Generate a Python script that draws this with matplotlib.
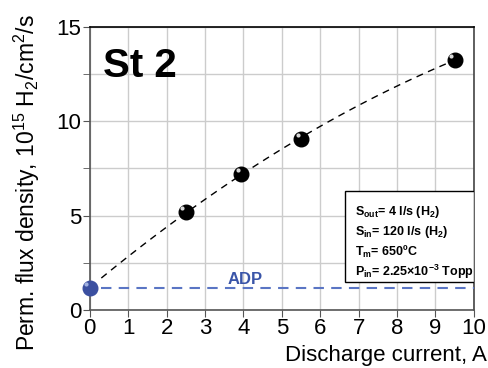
import numpy as np
import matplotlib
matplotlib.use('Agg')
import matplotlib.pyplot as plt
from matplotlib.patches import Rectangle

plt.rcParams['font.family'] = ['Liberation Sans', 'DejaVu Sans']
plt.rcParams['mathtext.fontset'] = 'custom'
plt.rcParams['mathtext.rm'] = 'Liberation Sans'
plt.rcParams['mathtext.it'] = 'Liberation Sans:italic'
plt.rcParams['mathtext.bf'] = 'Liberation Sans:bold'

# data
current = [2.5, 3.95, 5.5, 9.5]
flux = [5.2, 7.2, 9.05, 13.25]
adp_current = [0.0]
adp_flux = [1.15]
x_ticks = [0, 1, 2, 3, 4, 5, 6, 7, 8, 9, 10]
y_ticks = [0, 5, 10, 15]
info_lines = [r'$\mathbf{S_{out}}$= 4 l/s (H$\mathbf{_2}$)',
              r'$\mathbf{S_{in}}$= 120 l/s (H$\mathbf{_2}$)',
              r'$\mathbf{T_m}$= 650ºC',
              r'$\mathbf{P_{in}}$= 2.25×10$\mathbf{^{-3}}$ Topp']

fig = plt.figure(figsize=(4.88, 3.68), dpi=100)
ax = fig.add_axes([0.184, 0.158, 0.787, 0.769])

ax.set_xlim(0, 10)
ax.set_ylim(0, 15)
ax.set_xticks(x_ticks)
ax.set_yticks(y_ticks)
ax.set_yticks([2.5, 7.5, 12.5], minor=True)
ax.grid(True, which='both', color='#cccccc', lw=1)
ax.set_axisbelow(True)
ax.tick_params(labelsize=16, direction='out', length=5, color='#555555', pad=1)
ax.tick_params(which='minor', length=5, color='#555555')
for s in ['left', 'bottom']:
    ax.spines[s].set_color('#555555')
    ax.spines[s].set_linewidth(1.2)
ax.spines['top'].set_linewidth(1.2)
ax.spines['right'].set_color('#444444')
ax.spines['right'].set_linewidth(1.2)

# dashed fit curve through all points
fx = np.array(adp_current + current)
fy = np.array(adp_flux + flux)
coef = np.polyfit(fx, fy, 2)
xs = np.linspace(0.3, current[-1], 100)
ax.plot(xs, np.polyval(coef, xs), '--', color='black', lw=1, dashes=(5, 4), zorder=3)

# ADP level
ax.plot([0.3, 10], [adp_flux[0], adp_flux[0]], '--', color='#5a75c4', lw=1.5, dashes=(5, 3.5), zorder=3)
ax.text(3.59, adp_flux[0] + 0.2, 'ADP', color='#3a55a8', fontsize=12, fontweight='bold', zorder=4)

# spheres
ax.plot(current, flux, 'o', color='black', ms=10.5, zorder=5, clip_on=False)
ax.plot(np.array(current) - 0.09, np.array(flux) + 0.2, 'o', color='#d8d8d8', ms=3, mec='none', zorder=6)
ax.plot(adp_current, adp_flux, 'o', color='#3b4fa0', ms=10.5, zorder=5, clip_on=False)
ax.plot(np.array(adp_current) - 0.09, np.array(adp_flux) + 0.2, 'o', color='#a0b0e0', ms=3, mec='none', zorder=6, clip_on=False)

ax.text(0.35, 12.35, 'St 2', fontsize=29, fontweight='bold')

# info box
ax.add_patch(Rectangle((0.664, 0.099), 0.336, 0.321, transform=ax.transAxes,
                       fc='white', ec='black', lw=1, zorder=7))
for i, line in enumerate(info_lines):
    ax.text(0.69, 0.346 - i * 0.071, line, transform=ax.transAxes, fontsize=9,
            fontweight='bold', va='center', ha='left', zorder=8)

fig.text(0.055, 0.503, r'Perm. flux density, 10$^{15}$ H$_2$/cm$^2$/s', rotation=90,
         fontsize=16.5, ha='center', va='center')
fig.text(0.997, 0.035, 'Discharge current, A', fontsize=16, ha='right', va='center')

fig.savefig('out.png', dpi=100)
